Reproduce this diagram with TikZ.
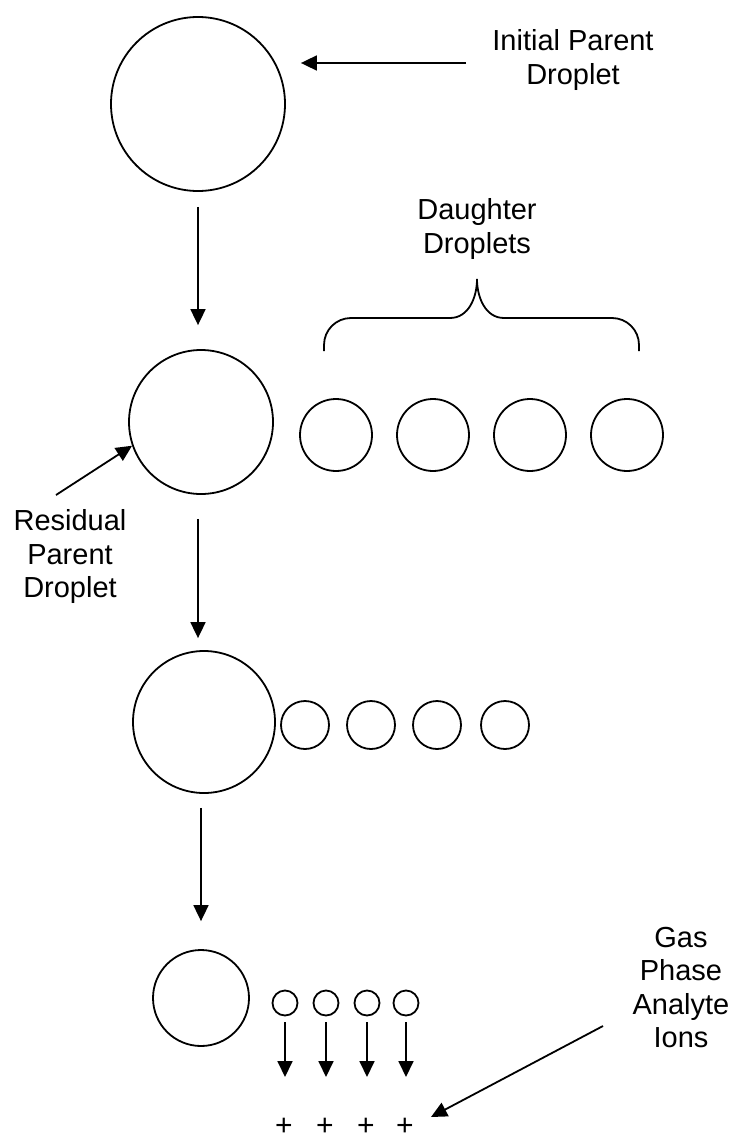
\documentclass[tikz,border=0pt]{standalone}
\usepackage{fontspec}
\setmainfont{Liberation Sans}
\usetikzlibrary{arrows.meta}

\begin{document}
\begin{tikzpicture} [
  x=1pt,
  y=-1pt,
  line width=1.8pt,
  drop/.style={draw, circle, inner sep=0pt},
  caption/.style={align=center, anchor=north, inner sep=0pt, font=\fontsize{29}{33.5}\selectfont},
  ion/.style={inner sep=0pt, font=\fontsize{30}{33.5}\selectfont},
  arr/.style={-{Triangle[length=16pt, width=15pt]}}
  ]
  \useasboundingbox (0,0) rectangle (737,1140);

  % parent droplet, shrinking from step to step
  \node(drop1)[drop, minimum size=174pt, at={(198,104)}]{};
  \node(drop2)[drop, minimum size=144pt, at={(201,422)}]{};
  \node(drop3)[drop, minimum size=142pt, at={(204,722)}]{};
  \node(drop4)[drop, minimum size=96pt, at={(201,998)}]{};

  % daughters split off at each step
  \foreach \x [count=\i] in {336,433,530,627}
    \node(dau\i)[drop, minimum size=72pt, at={(\x,435)}]{};
  \foreach \x [count=\i] in {305,371,437,505}
    \node(small\i)[drop, minimum size=48pt, at={(\x,725)}]{};
  \foreach \x [count=\i] in {285,326,367,406} {
    \node(tiny\i)[drop, minimum size=25pt, at={(\x,1003)}]{};
    \node(ion\i)[ion, at={(\x-1,1127)}]{+};
    \draw[arr] ([yshift=-6pt]tiny\i.south) -- ([yshift=50pt]tiny\i |- ion\i);
  }

  \node(init)[caption, at={(573,29)}]{Initial Parent\\Droplet};
  \node(daughters)[caption, at={(477,198)}]{Daughter\\Droplets};
  \node(residual)[caption, at={(70,509)}]{Residual\\Parent\\Droplet};
  \node(gas)[caption, at={(681,926)}]{Gas\\Phase\\Analyte\\Ions};

  \coordinate(init-tail) at (466,63);
  \coordinate(res-tail) at (56,495);
  \coordinate(gas-tail) at (603,1026);

  \draw[arr] (init-tail) -- ([xshift=15pt]drop1.east |- init-tail);
  \draw[arr] (res-tail) -- (drop2.199);
  \draw[arr] (gas-tail) -- ([xshift=26pt, yshift=10pt]ion4.center);

  \draw[arr] ([yshift=-15pt]drop1.south) -- ([yshift=24pt]drop1.south |- drop2.north);
  \draw[arr] ([yshift=-24pt]drop2.south -| drop1) -- ([yshift=12pt]drop3.north -| drop1);
  \draw[arr] ([yshift=-14pt]drop3.south -| drop4) -- ([yshift=28pt]drop4.north);

  % brace over the daughters
  \draw (324,351) -- (324,345) to[out=90, in=180] (351,318) -- (450,318)
    to[out=0, in=-90] (477,279) to[out=-90, in=180] (504,318) -- (612,318)
    to[out=0, in=90] (639,345) -- (639,351);
\end{tikzpicture}
\end{document}
